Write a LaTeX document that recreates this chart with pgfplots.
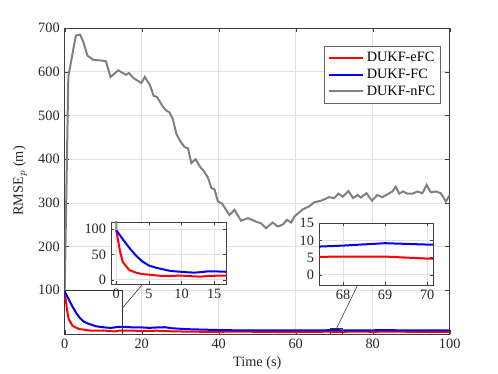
\documentclass[border=0pt]{standalone}
\usepackage{fontspec}
\setmainfont{Liberation Serif}
\usepackage{pgfplots}
\pgfplotsset{compat=1.18}
\usepackage{pgfplotstable}

% DUKF-eFC
\pgfplotstableread{
t v
0 98
0.6 55
1 35
2 19
3 14
4 11
5 10
6 8.5
7 7.5
8 7.5
10 8
12 6.5
13 6
14 7.5
16 8
18 7.5
20 7
24 7.5
28 6
32 5.5
36 5
40 5
45 5.5
50 5
55 4.5
60 4.5
66 5
68 5.3
69 5.3
70 4.7
72 5
76 5.5
80 5
85 5.5
90 5
95 4.5
100 5
}\efc

% DUKF-FC
\pgfplotstableread{
t v
0 98
1 80
2 63
3 48
4 36
5 28
6 24
7 21
8 18
9 16.5
10 15.5
11 14.5
12 14
13 15
14 16.5
15 16.5
16 16
17 15.5
18 15
20 15
22 14
24 15
26 15.5
28 13
30 12
32 11
34 10.5
36 10
38 9.5
40 9
44 8.5
48 8
52 8.5
56 8
60 8
64 8.5
66 8
67.4 8.2
68 8.5
69 9.2
70 8.8
72 8.5
76 8
80 8.5
84 9
88 8
92 8.5
96 8
100 8.5
}\fc

% DUKF-nFC
\pgfplotstableread{
t v
0 100
0.94 589
2.9 683
4.0 685
4.8 669
5.9 637
7.4 627
9.1 626
10.7 624
11.9 588
13.9 603
15.9 593
16.7 597
17.8 586
19.9 574
20.8 588
22.1 570
23.1 545
24.0 542
25.5 520
26.4 511
27.1 508
28.0 494
29.0 458
30.1 440
31.2 427
32.0 425
32.9 391
34.0 400
35.1 383
36.1 373
37.2 358
38.1 334
38.9 331
39.8 303
40.9 298
42.8 272
44.1 284
45.8 259
47.6 265
49.7 257
51.0 253
52.3 242
54.0 255
55.3 246
56.6 250
57.7 261
58.8 255
59.7 269
61.8 285
63.5 292
64.8 301
66.6 305
68.7 313
70.0 311
71.1 321
72.2 314
73.7 327
74.9 311
76.1 318
76.9 312
78.4 322
79.8 305
81.2 318
82.5 313
84.1 321
85.1 326
86.0 337
86.9 321
87.9 326
89.0 321
90.3 321
91.6 326
92.9 322
94.0 341
95.1 324
96.4 326
97.7 322
99.0 303
100 318
}\nfc

\begin{document}
\begin{tikzpicture}[font=\fontsize{10}{12}\selectfont]
\useasboundingbox (-45.3pt,-28pt) rectangle (303.3pt,233.8pt);
\pgfplotsset{
  matstyle/.style={
    scale only axis,
    axis line style={draw=black!75},
    tick style={black!75},
    tick align=inside,
    major tick length=3pt,
    grid=major,
    major grid style={black!12},
    ticklabel style={text=black!85},
    /pgf/number format/assume math mode=true,
    /pgf/number format/1000 sep={},
    scaled ticks=false,
    clip=true,
  },
  efcline/.style={red, line width=1.4pt},
  fcline/.style={blue, line width=1.4pt},
  nfcline/.style={black!50, line width=1.4pt},
}
\begin{axis}[matstyle,
  width=269.5pt, height=214.2pt,
  xmin=0, xmax=100, ymin=0, ymax=700,
  xtick={0,20,...,100}, ytick={100,200,...,700},
  xlabel={Time (s)}, ylabel={RMSE$_p$ (m)},
  xlabel style={at={(axis description cs:0.5,-0.095)}, anchor=center, text=black!85},
  ylabel style={at={(axis description cs:-0.116,0.5)}, anchor=center, text=black!85},
  legend style={at={(0.978,0.94)}, anchor=north east, draw=black!60,
                line width=0.6pt, fill=white, font=\fontsize{10}{12}\selectfont,
                row sep=-0.5pt, inner sep=2pt},
  legend cell align=left,
  legend image code/.code={\draw[#1] (0pt,0pt) -- (24pt,0pt);},
]
  \addplot[efcline] table[x=t, y=v] {\efc};
  \addplot[fcline] table[x=t, y=v] {\fc};
  \addplot[nfcline] table[x=t, y=v] {\nfc};
  \legend{DUKF-eFC, DUKF-FC, DUKF-nFC}
  \draw[black!80, thin] (axis cs:0,0) rectangle (axis cs:15,100);
  \draw[black!80, thin] (axis cs:69,0) rectangle (axis cs:72,13);
  \draw[black!80, thin] (axis cs:20.3,114.5) -- (axis cs:15,59.5);
  \draw[black!80, thin] (axis cs:76,110) -- (axis cs:70.6,13);
\end{axis}

\begin{axis}[matstyle,
  at={(32.4pt,35pt)}, anchor=south west,
  width=80.5pt, height=43.4pt,
  major tick length=2pt,
  axis background/.style={fill=white},
  xmin=-0.8, xmax=16.8, ymin=-8.5, ymax=114,
  xtick={0,5,10,15}, ytick={0,50,100},
]
  \addplot[efcline] table[x=t, y=v] {\efc};
  \addplot[fcline] table[x=t, y=v] {\fc};
  \addplot[nfcline] table[x=t, y=v] {\nfc};
\end{axis}

\begin{axis}[matstyle,
  at={(178pt,34.3pt)}, anchor=south west,
  width=79.8pt, height=43.4pt,
  major tick length=2pt,
  axis background/.style={fill=white},
  xmin=67.43, xmax=70.14, ymin=-3, ymax=15.1,
  xtick={68,69,70}, ytick={0,5,10,15},
]
  \addplot[efcline] table[x=t, y=v] {\efc};
  \addplot[fcline] table[x=t, y=v] {\fc};
\end{axis}
\end{tikzpicture}
\end{document}
